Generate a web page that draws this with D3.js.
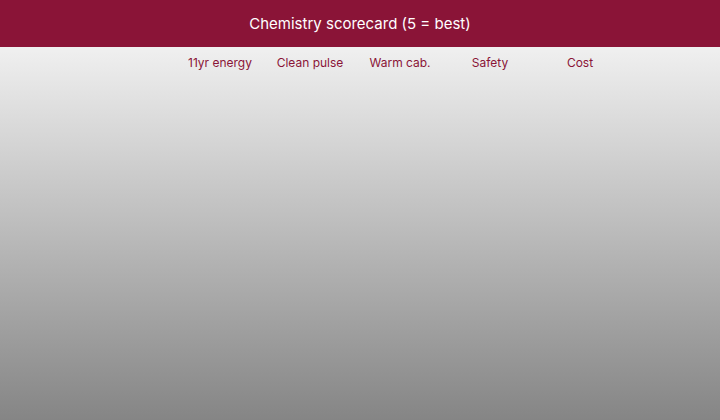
<!doctype html>
<html>
<head>
<meta charset="utf-8">
<script src="https://cdnjs.cloudflare.com/ajax/libs/d3/7.8.5/d3.min.js"></script>
<style>
  html, body { margin: 0; padding: 0; }
  body { width: 720px; height: 420px; overflow: hidden; font-family: Inter, Roboto, sans-serif; }
</style>
</head>
<body>
<svg id="chart" width="720" height="420"></svg>
<script>
  // scorecard data
  const title = "Chemistry scorecard (5 = best)";
  const criteria = ["11yr energy", "Clean pulse", "Warm cab.", "Safety", "Cost"];
  const chemistries = [];   // no rows shown in the chart
  const scores = [];        // one array of 5 values per chemistry

  const width = 720, height = 420, barH = 47;
  const svg = d3.select("#chart");

  const defs = svg.append("defs");
  const grad = defs.append("linearGradient")
      .attr("id", "bg").attr("x1", 0).attr("y1", 0).attr("x2", 0).attr("y2", 1);
  grad.append("stop").attr("offset", "0%").attr("stop-color", "#f0f0f0");
  grad.append("stop").attr("offset", "100%").attr("stop-color", "#858585");

  svg.append("rect").attr("x", 0).attr("y", barH)
      .attr("width", width).attr("height", height - barH)
      .attr("fill", "url(#bg)");

  svg.append("rect").attr("x", 0).attr("y", 0)
      .attr("width", width).attr("height", barH)
      .attr("fill", "#8a1437");

  svg.append("text")
      .attr("x", width / 2).attr("y", 29)
      .attr("text-anchor", "middle")
      .attr("fill", "#ffffff")
      .style("font-size", "15px")
      .text(title);

  const x = d3.scaleBand().domain(criteria).range([175, 625]);
  const y = d3.scaleBand().domain(chemistries).range([80, height - 20]).padding(0.15);
  const color = d3.scaleLinear().domain([1, 5]).range(["#e8c3cd", "#8a1437"]);

  svg.append("g").selectAll("text")
    .data(criteria)
    .join("text")
      .attr("x", d => x(d) + x.bandwidth() / 2)
      .attr("y", 67)
      .attr("text-anchor", "middle")
      .attr("fill", "#8a1437")
      .style("font-size", "12px")
      .text(d => d);

  // rows (none in this chart)
  const rows = svg.append("g").selectAll("g")
    .data(chemistries)
    .join("g")
      .attr("transform", d => `translate(0,${y(d)})`);

  rows.append("text")
      .attr("x", 165).attr("y", y.bandwidth() / 2).attr("dy", "0.35em")
      .attr("text-anchor", "end").attr("fill", "#333")
      .style("font-size", "12px")
      .text(d => d);

  rows.selectAll("rect")
    .data((d, i) => scores[i].map((v, j) => ({ c: criteria[j], v })))
    .join("rect")
      .attr("x", d => x(d.c) + 4)
      .attr("width", x.bandwidth() - 8)
      .attr("height", y.bandwidth())
      .attr("fill", d => color(d.v));
</script>
</body>
</html>
